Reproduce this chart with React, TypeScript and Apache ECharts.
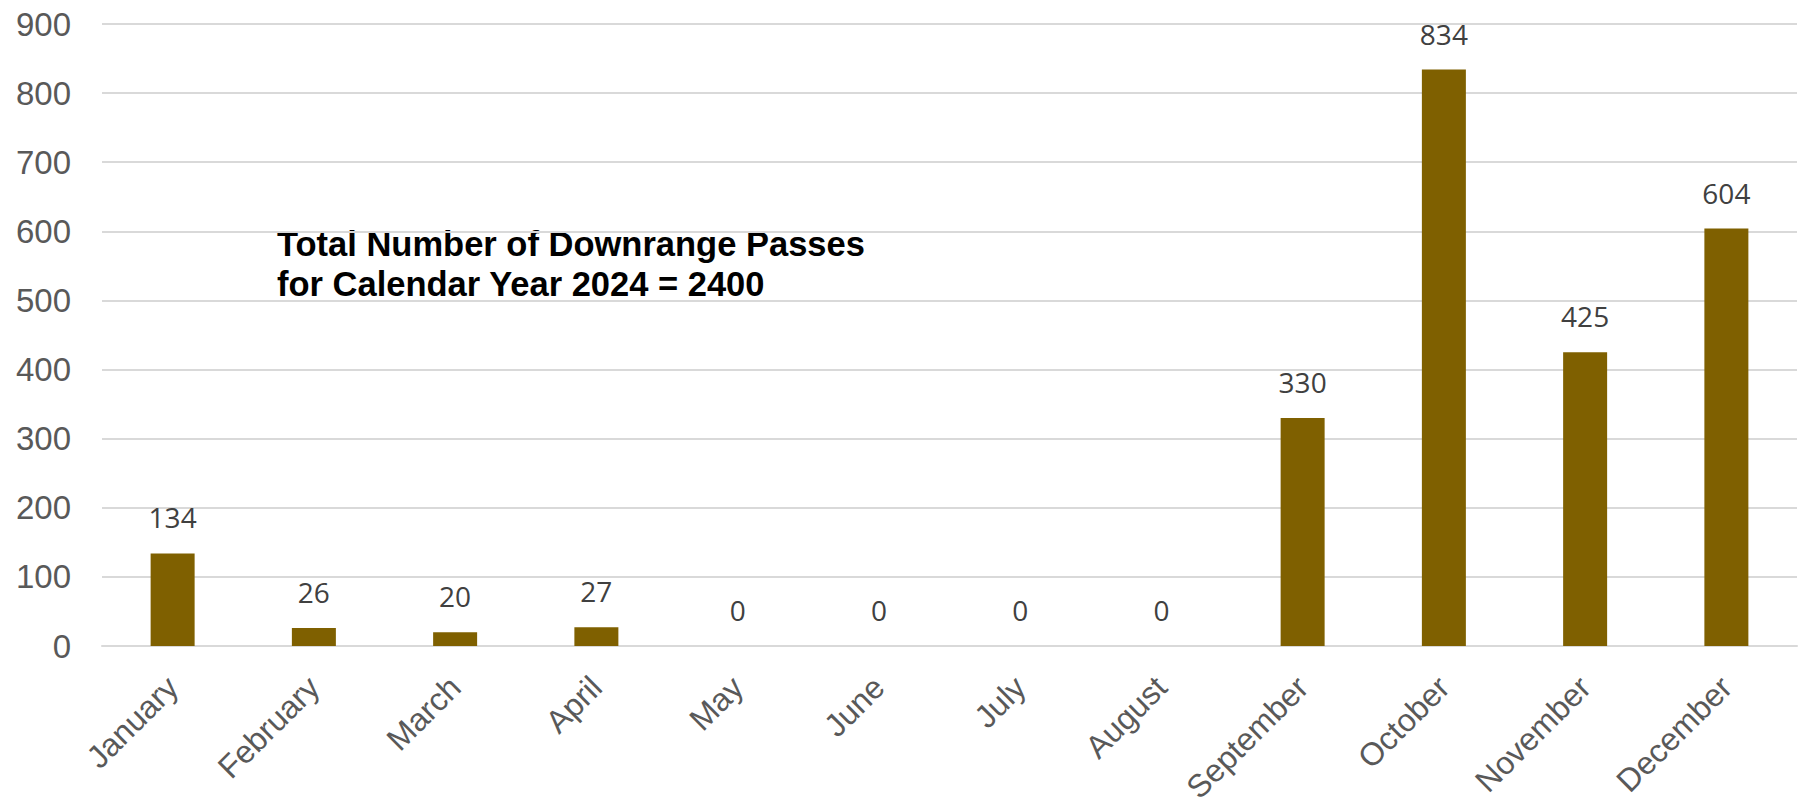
import React, { useEffect, useRef } from "react";
import * as echarts from "echarts";

const months = ["January", "February", "March", "April", "May", "June", "July", "August", "September", "October", "November", "December"];
const passes = [134, 26, 20, 27, 0, 0, 0, 0, 330, 834, 425, 604];
const yTicks = { min: 0, max: 900, interval: 100 };
const noteLines = ["Total Number of Downrange Passes", "for Calendar Year 2024 = 2400"];

export default function App() {
  const ref = useRef<HTMLDivElement>(null);
  useEffect(() => {
    if (!ref.current) return;
    const chart = echarts.init(ref.current, undefined, { renderer: "svg" });
    chart.setOption({
      animation: false,
      backgroundColor: "#ffffff",
      grid: { left: 102, right: 3, top: 24, bottom: 161, containLabel: false },
      xAxis: {
        type: "category",
        data: months,
        axisLine: { show: true, lineStyle: { color: "#d9d9d9", width: 2 } },
        axisTick: { show: false },
        axisLabel: {
          rotate: 45,
          interval: 0,
          margin: 36,
          color: "#595959",
          fontSize: 32,
          fontFamily: "Liberation Sans, Arial, sans-serif",
        },
      },
      yAxis: {
        type: "value",
        min: yTicks.min,
        max: yTicks.max,
        interval: yTicks.interval,
        axisLine: { show: false },
        axisTick: { show: false },
        splitLine: { lineStyle: { color: "#d9d9d9", width: 2 } },
        axisLabel: {
          margin: 31,
          color: "#595959",
          fontSize: 33,
          fontFamily: "Liberation Sans, Arial, sans-serif",
        },
      },
      series: [
        {
          type: "bar",
          data: passes,
          barWidth: 44,
          itemStyle: { color: "#7f6000" },
          label: {
            show: true,
            position: "top",
            distance: 22,
            color: "#404040",
            fontSize: 28,
            fontFamily: "Open Sans, Noto Sans, sans-serif",
          },
        },
      ],
      graphic: noteLines.map((t, i) => ({
        type: "text",
        left: 277,
        top: 226 + i * 40,
        style: {
          text: t,
          fill: "#000000",
          font: "bold 34.5px 'Liberation Sans', Arial, sans-serif",
        },
      })),
    });
    return () => chart.dispose();
  }, []);
  return (
    <div
      ref={ref}
      style={{ position: "fixed", left: 0, top: 0, width: 1800, height: 807 }}
    />
  );
}
